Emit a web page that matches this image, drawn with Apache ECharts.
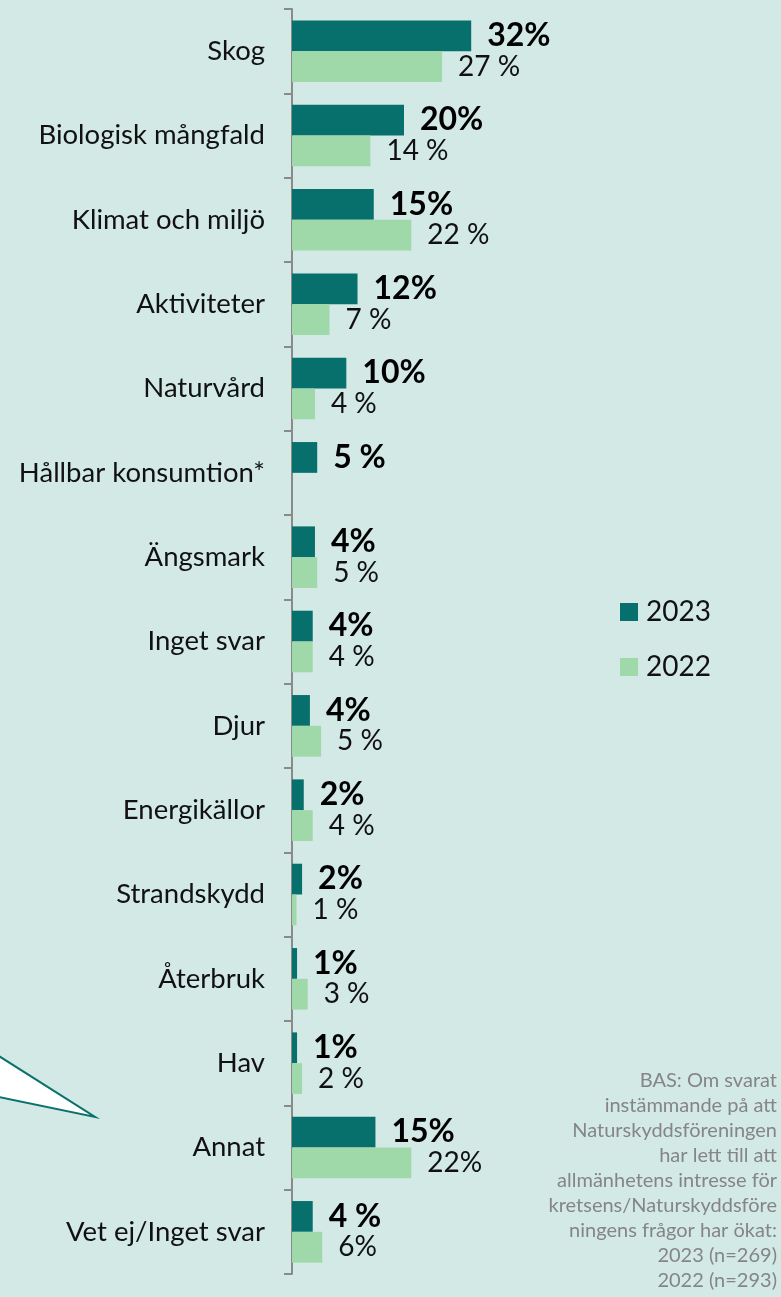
<!DOCTYPE html>
<html>
<head>
<meta charset="utf-8">
<title>Intresse per område</title>
<script src="https://cdn.jsdelivr.net/npm/echarts@6/dist/echarts.min.js"></script>
<style>
  html, body { margin: 0; padding: 0; background: #d2e9e6; }
  #chart { width: 781px; height: 1297px; }
</style>
</head>
<body>
<div id="chart"></div>
<script>
// kategorier, uppifrån och ned
const categories = [
  'Skog', 'Biologisk mångfald', 'Klimat och miljö', 'Aktiviteter', 'Naturvård',
  'Hållbar konsumtion*', 'Ängsmark', 'Inget svar', 'Djur', 'Energikällor',
  'Strandskydd', 'Återbruk', 'Hav', 'Annat', 'Vet ej/Inget svar'
]
// stapellängder
const values2023 = [32.0, 20.0, 14.6, 11.7, 9.7, 4.5, 4.1, 3.7, 3.2, 2.1, 1.8, 0.9, 0.9, 14.9, 3.7]
const values2022 = [26.8, 14.0, 21.3, 6.7, 4.1, null, 4.5, 3.7, 5.2, 3.7, 0.8, 2.8, 1.8, 21.3, 5.4]
// etiketterna som de står i originalet
const labels2023 = ['32%', '20%', '15%', '12%', '10%', '5 %', '4%', '4%', '4%', '2%', '2%', '1%', '1%', '15%', '4 %']
const labels2022 = ['27 %', '14 %', '22 %', '7 %', '4 %', '', '5 %', '4 %', '5 %', '4 %', '1 %', '3 %', '2 %', '22%', '6%']
const seriesNames = ['2023', '2022']
const noteLines = [
  'BAS: Om svarat',
  'instämmande på att',
  'Naturskyddsföreningen',
  'har lett till att',
  'allmänhetens intresse för',
  'kretsens/Naturskyddsföre',
  'ningens frågor har ökat:',
  '2023 (n=269)',
  '2022 (n=293)'
]

const FONT = 'Lato, "Noto Sans", sans-serif'
const DARK = '#076f6c'
const LIGHT = '#9fd8a9'

const chart = echarts.init(document.getElementById('chart'), null, { renderer: 'canvas' })

// fotnoten, en rad per textelement så att inget radbryts
const noteGraphics = noteLines.map((line, i) => ({
  type: 'text',
  x: 777,
  y: 1071 + i * 25,
  style: {
    text: line,
    fontSize: 20,
    align: 'right',
    verticalAlign: 'top',
    fill: '#858585',
    fontFamily: FONT
  }
}))

chart.setOption({
  backgroundColor: '#d2e9e6',
  animation: false,
  textStyle: { fontFamily: FONT },
  grid: {
    left: 292,
    top: 9,
    bottom: 23,
    width: 280
  },
  xAxis: {
    type: 'value',
    min: 0,
    max: 50,
    show: false
  },
  yAxis: {
    type: 'category',
    inverse: true,
    data: categories,
    axisLine: { show: true, lineStyle: { color: '#8a8a8a', width: 2 } },
    axisTick: { show: true, inside: false, length: 8, lineStyle: { color: '#8a8a8a', width: 2 } },
    axisLabel: {
      margin: 27,
      color: '#111',
      fontSize: 27.5,
      fontFamily: FONT
    }
  },
  legend: {
    orient: 'vertical',
    left: 615,
    top: 591,
    icon: 'rect',
    itemWidth: 18,
    itemHeight: 18,
    itemGap: 23,
    data: seriesNames,
    textStyle: {
      fontSize: 28,
      lineHeight: 32,
      color: '#111',
      fontFamily: FONT,
      padding: [0, 0, 0, 3]
    }
  },
  graphic: [
    // pratbubblans spets längst ner till vänster
    {
      type: 'polygon',
      shape: { points: [[-6, 1053], [95, 1117], [-6, 1096]] },
      style: { fill: '#fff', stroke: '#0b716e', lineWidth: 2 }
    }
  ].concat(noteGraphics),
  series: [
    {
      name: seriesNames[0],
      type: 'bar',
      data: values2023,
      barGap: '0%',
      barCategoryGap: '27%',
      itemStyle: { color: DARK },
      label: {
        show: true,
        position: 'right',
        distance: 16,
        fontSize: 32,
        fontWeight: 'bold',
        color: '#000',
        fontFamily: FONT,
        formatter: p => labels2023[p.dataIndex]
      }
    },
    {
      name: seriesNames[1],
      type: 'bar',
      data: values2022,
      barGap: '0%',
      barCategoryGap: '27%',
      itemStyle: { color: LIGHT },
      label: {
        show: true,
        position: 'right',
        distance: 16,
        fontSize: 28,
        color: '#111',
        fontFamily: FONT,
        formatter: p => labels2022[p.dataIndex]
      }
    }
  ]
})
</script>
</body>
</html>
